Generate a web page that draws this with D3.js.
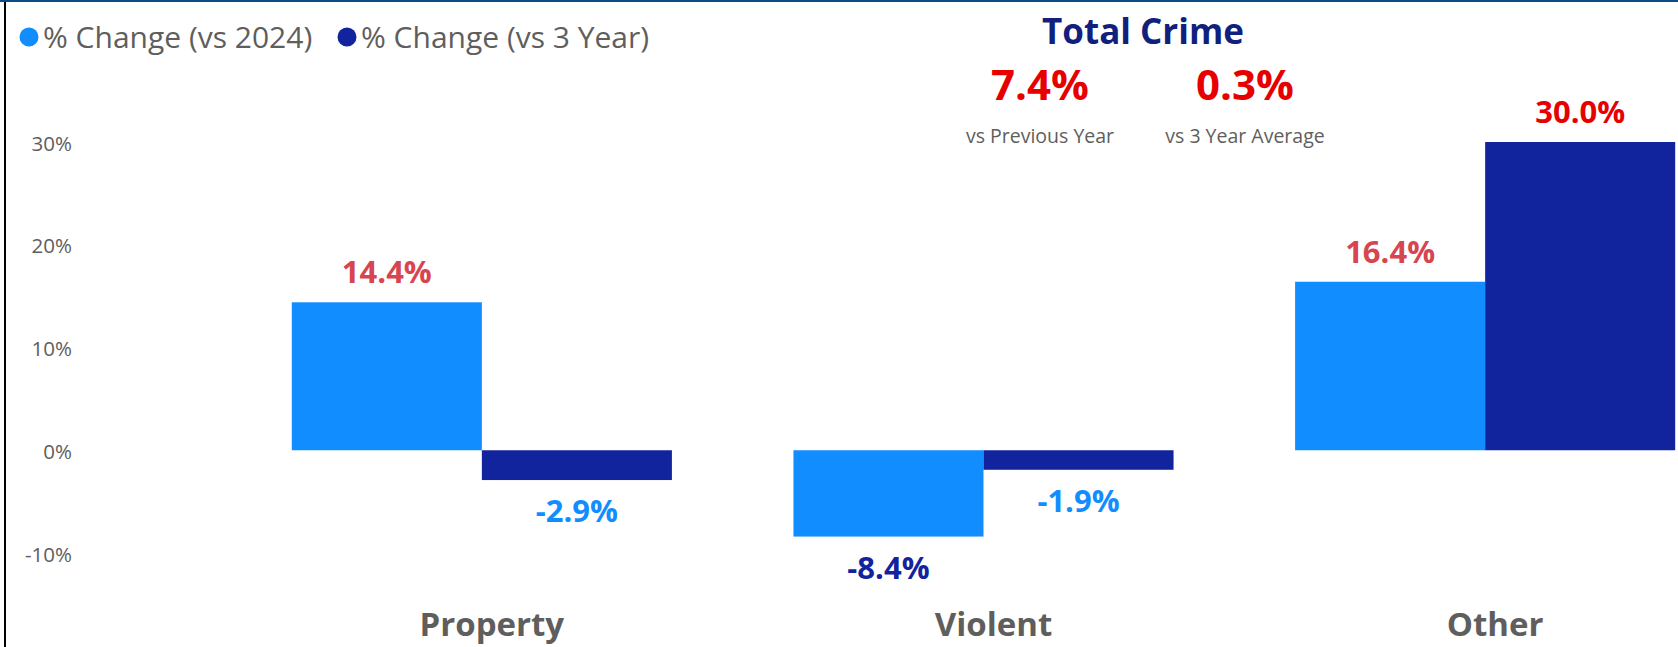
<!DOCTYPE html>
<html>
<head>
<meta charset="utf-8">
<script src="https://cdn.jsdelivr.net/npm/d3@7"></script>
<style>
  html, body { margin: 0; padding: 0; background: #fff; }
  svg { display: block; font-family: "Open Sans", "Noto Sans", sans-serif; }
</style>
</head>
<body>
<div id="chart"></div>
<script>
// data
const categories = ['Property', 'Violent', 'Other'];
const seriesNames = ['% Change (vs 2024)', '% Change (vs 3 Year)'];
const vs2024 = [14.4, -8.4, 16.4];
const vs3Year = [-2.9, -1.9, 30.0];
const yTicks = [-10, 0, 10, 20, 30];
const kpiValues = [7.4, 0.3];
const kpiLabels = ['vs Previous Year', 'vs 3 Year Average'];

const width = 1678, height = 647;
const colors = ['#118DFF', '#12239E'];
const grey = '#605E5C';

const svg = d3.select('#chart').append('svg')
    .attr('width', width)
    .attr('height', height);

// frame lines
svg.append('rect').attr('x', 0).attr('y', 0).attr('width', width).attr('height', 2).attr('fill', '#0B4A85');
svg.append('rect').attr('x', 4).attr('y', 2).attr('width', 2).attr('height', height).attr('fill', '#000');

const x = d3.scaleBand()
    .domain(categories)
    .range([231, 1736])
    .paddingInner(0.2423)
    .paddingOuter(0.1212);

const xs = d3.scaleBand()
    .domain(seriesNames)
    .range([0, x.bandwidth()]);

const y = d3.scaleLinear()
    .domain([-10, 30])
    .range([553, 142]);

// y axis labels
const yAxis = svg.append('g')
    .attr('transform', 'translate(72,0)')
    .call(d3.axisLeft(y).tickValues(yTicks).tickSize(0).tickPadding(0).tickFormat(d => d + '%'));
yAxis.select('.domain').remove();
yAxis.selectAll('text')
    .attr('fill', grey)
    .attr('font-size', 20.5)
    .attr('dy', '0.4em')
    .style('font-family', '"Open Sans", sans-serif');

const rows = categories.map((c, i) => ({ cat: c, values: [vs2024[i], vs3Year[i]] }));

function labelColor(v) {
  if (v >= 20) return '#E60000';
  if (v > 0) return '#D64550';
  if (v <= -5) return '#12239E';
  return '#118DFF';
}

const groups = svg.append('g').selectAll('g')
    .data(rows)
    .join('g')
    .attr('transform', d => `translate(${x(d.cat)},0)`);

const cells = groups.selectAll('g')
    .data(d => d.values.map((v, j) => ({ s: seriesNames[j], v, j })))
    .join('g');

cells.append('rect')
    .attr('x', d => xs(d.s))
    .attr('width', xs.bandwidth())
    .attr('y', d => Math.min(y(d.v), y(0)))
    .attr('height', d => Math.abs(y(d.v) - y(0)))
    .attr('fill', d => colors[d.j]);

cells.append('text')
    .attr('x', d => xs(d.s) + xs.bandwidth() / 2)
    .attr('y', d => d.v >= 0 ? y(d.v) - 19 : y(d.v) + 42)
    .attr('text-anchor', 'middle')
    .attr('font-size', 31)
    .attr('font-weight', 700)
    .attr('fill', d => labelColor(d.v))
    .text(d => d.v.toFixed(1) + '%');

// category labels
svg.append('g').selectAll('text')
    .data(categories)
    .join('text')
    .attr('x', d => x(d) + x.bandwidth() / 2 + 10)
    .attr('y', 636)
    .attr('text-anchor', 'middle')
    .attr('font-size', 33)
    .attr('font-weight', 700)
    .attr('fill', grey)
    .text(d => d);

// legend
const legendX = [29, 347];
const legend = svg.append('g').selectAll('g')
    .data(seriesNames)
    .join('g')
    .attr('transform', (d, i) => `translate(${legendX[i]},37)`);
legend.append('circle').attr('r', 9.5).attr('fill', (d, i) => colors[i]);
legend.append('text')
    .attr('x', 14)
    .attr('y', 11)
    .attr('font-size', 30)
    .attr('fill', grey)
    .text(d => d);

// Total Crime card
svg.append('text')
    .attr('x', 1143).attr('y', 44)
    .attr('text-anchor', 'middle')
    .attr('font-size', 35)
    .attr('font-weight', 700)
    .attr('fill', '#111F7D')
    .text('Total Crime');

const kpiX = [1040, 1245];
const kpi = svg.append('g').selectAll('g')
    .data(kpiValues)
    .join('g')
    .attr('transform', (d, i) => `translate(${kpiX[i]},0)`);
kpi.append('text')
    .attr('y', 100)
    .attr('text-anchor', 'middle')
    .attr('font-size', 42)
    .attr('font-weight', 700)
    .attr('fill', '#E60000')
    .text(d => d.toFixed(1) + '%');
kpi.append('text')
    .attr('y', 143)
    .attr('text-anchor', 'middle')
    .attr('font-size', 19.5)
    .attr('fill', grey)
    .text((d, i) => kpiLabels[i]);
</script>
</body>
</html>
